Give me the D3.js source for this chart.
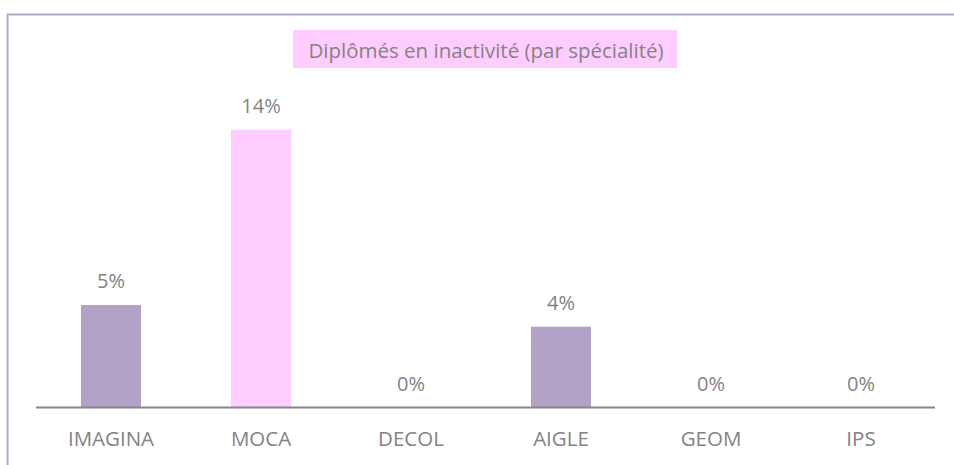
<!DOCTYPE html>
<html>
<head>
<meta charset="utf-8">
<script src="https://cdn.jsdelivr.net/npm/d3@7"></script>
<style>
  body { margin: 0; background: #fff; }
  text { font-family: "Open Sans", sans-serif; fill: #838383; }
</style>
</head>
<body>
<div id="chart"></div>
<script>
const w = 954,
    h = 465;

// data
const categories = ["IMAGINA", "MOCA", "DECOL", "AIGLE", "GEOM", "IPS"];
const values = [0.052, 0.141, 0, 0.041, 0, 0];
const title = "Diplômés en inactivité (par spécialité)";

const svg = d3.select("#chart")
    .append("svg")
    .attr("width", w)
    .attr("height", h);

// frame (only top and left edges show)
svg.append("path")
    .attr("d", "M7.5," + h + "V14.5H" + w)
    .attr("fill", "none")
    .attr("stroke", "#b4a7c9")
    .attr("stroke-width", 2);

const xScale = d3.scaleBand()
    .domain(categories)
    .range([36, 936])
    .paddingInner(0.6)
    .paddingOuter(0.3);

const yScale = d3.scaleLinear()
    .domain([0, 0.15])
    .range([407.5, 112]);

const color = d3.scaleOrdinal()
    .domain(categories)
    .range(["#b2a2c7", "#ffccff", "#b2a2c7", "#b2a2c7", "#b2a2c7", "#b2a2c7"]);

const bars = svg.selectAll("rect.bar")
    .data(categories)
    .enter()
    .append("rect")
    .attr("class", "bar")
    .attr("x", function (d) { return xScale(d) })
    .attr("width", xScale.bandwidth())
    .attr("y", function (d, i) { return yScale(values[i]) })
    .attr("height", function (d, i) { return yScale(0) - yScale(values[i]) })
    .style("fill", function (d) { return color(d) });

// value labels
svg.selectAll("text.val")
    .data(categories)
    .enter()
    .append("text")
    .attr("class", "val")
    .attr("x", function (d) { return xScale(d) + xScale.bandwidth() / 2 })
    .attr("y", function (d, i) { return yScale(values[i]) - 17 })
    .attr("text-anchor", "middle")
    .style("font-size", "20px")
    .text(function (d, i) { return d3.format(".0%")(values[i]) });

// x axis
const xAxis = svg.append("g")
    .attr("transform", "translate(0," + yScale(0) + ")")
    .call(d3.axisBottom(xScale).tickSize(0).tickPadding(38.5));

xAxis.select(".domain")
    .attr("stroke", "#868686")
    .attr("stroke-width", 2)
    .attr("d", "M36,0H935");

xAxis.selectAll("text")
    .attr("dy", 0)
    .style("font-size", "20.5px")
    .style("font-family", "'Open Sans', sans-serif")
    .attr("fill", "#838383");

// title with pink box
svg.append("rect")
    .attr("x", 293)
    .attr("y", 30)
    .attr("width", 384)
    .attr("height", 38)
    .style("fill", "#ffccff");

svg.append("text")
    .attr("x", 486)
    .attr("y", 58)
    .attr("text-anchor", "middle")
    .style("font-size", "20.5px")
    .text(title);
</script>
</body>
</html>
